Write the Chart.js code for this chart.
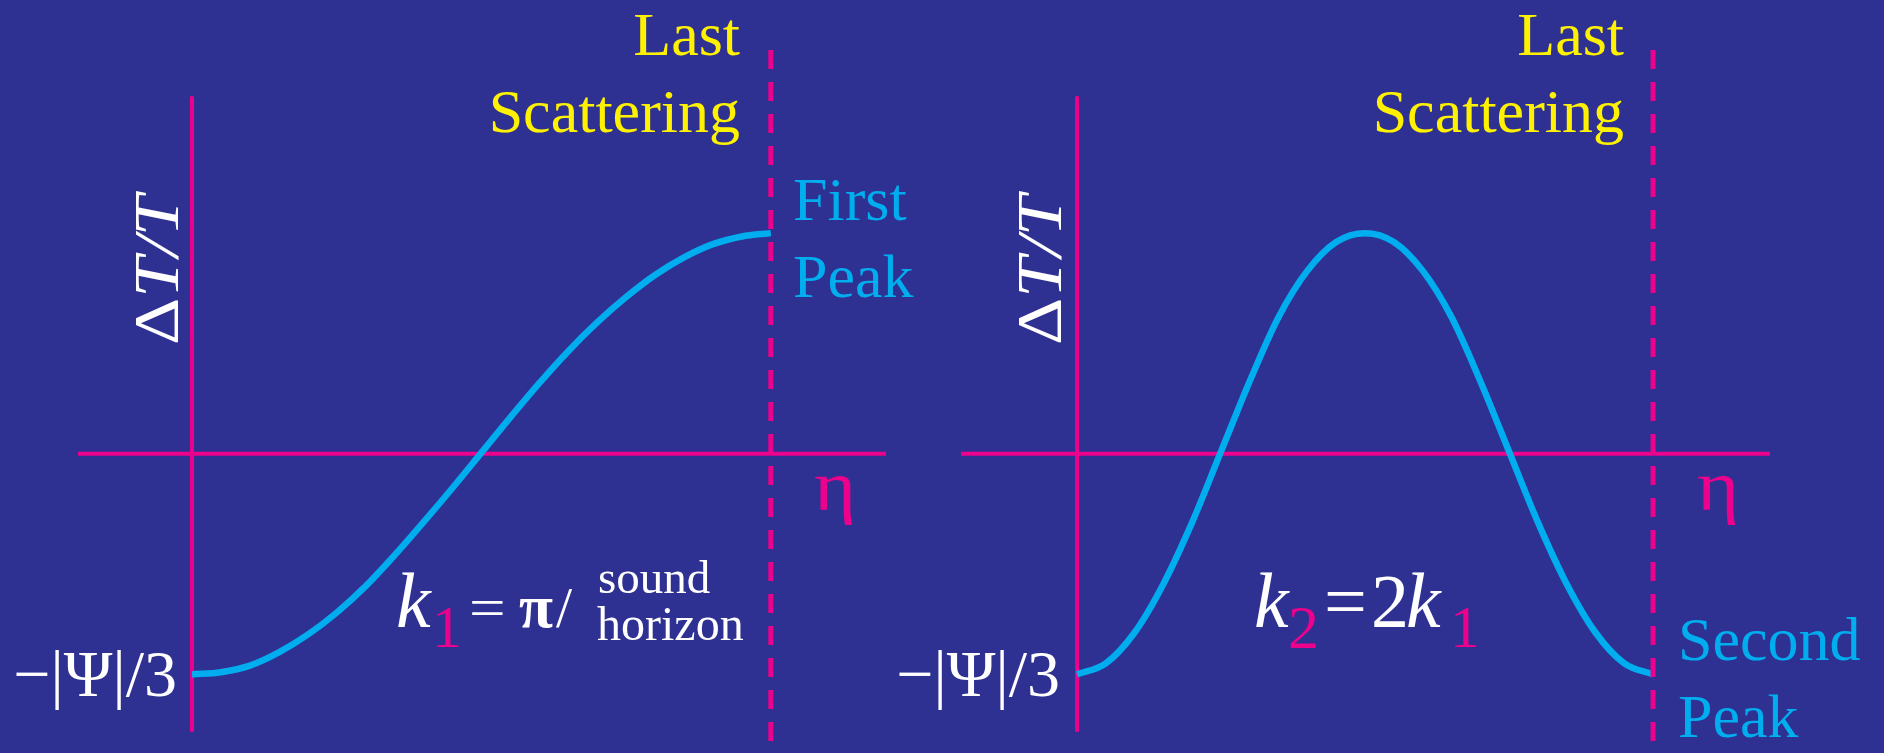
<!DOCTYPE html>
<html>
<head>
<meta charset="utf-8">
<title>Acoustic peaks</title>
<script src="https://cdn.jsdelivr.net/npm/chart.js@4.4.1/dist/chart.umd.min.js"></script>
<style>
  html, body { margin: 0; padding: 0; background: #2e3192; }
  .stage { position: relative; width: 1884px; height: 753px; }
  .stage canvas { position: absolute; left: 0; top: 0; display: block; }
</style>
</head>
<body>
<div class="stage">
  <canvas id="first-peak" width="1884" height="753"></canvas>
  <canvas id="second-peak" width="1884" height="753"></canvas>
</div>
<script>
// conformal time, with last scattering at eta = 1
const etaSteps = [0, 0.05, 0.1, 0.15, 0.2, 0.25, 0.3, 0.35, 0.4, 0.45, 0.5,
                  0.55, 0.6, 0.65, 0.7, 0.75, 0.8, 0.85, 0.9, 0.95, 1];
// dT/T in units of |Psi|/3 for the two modes
const firstPeakMode = [-1.00, -0.99, -0.96, -0.90, -0.82, -0.72, -0.60, -0.46, -0.31, -0.155, 0.005,
                       0.165, 0.32, 0.465, 0.595, 0.71, 0.81, 0.89, 0.95, 0.985, 1.00];
const secondPeakMode = [-1.00, -0.95, -0.81, -0.59, -0.31, 0.01, 0.33, 0.62, 0.83, 0.96, 1.00,
                        0.96, 0.83, 0.62, 0.33, 0.01, -0.31, -0.59, -0.81, -0.95, -1.00];

const lastScattering = 1;
const axisSpan = [-1.26, 1.62];   // extent of the dT/T axis line
const ySpan = [-1.32, 1.83];      // extent of the dashed line / plot

const MAGENTA = '#ec008c';
const CYAN = '#00aeef';
const YELLOW = '#fff200';
const WHITE = '#ffffff';
const SERIF = '"Liberation Serif", "Times New Roman", serif';

const txt = (t, x, y, font, color, align, sx) => ({ x, y, align, sx, runs: [{ t, font, color }] });

// draws free text on top of the plot
const notesPlugin = (notes) => ({
    id: 'notes',
    afterDatasetsDraw(chart) {
        const ctx = chart.ctx;
        notes.forEach(n => {
            ctx.save();
            ctx.translate(n.x, n.y);
            if (n.rotate) ctx.rotate(n.rotate);
            if (n.sx) ctx.scale(n.sx, 1);
            ctx.textBaseline = 'alphabetic';
            ctx.textAlign = 'left';
            let pen = 0;
            if (n.align === 'right') {
                n.runs.forEach(r => { ctx.font = r.font; pen -= ctx.measureText(r.t).width; });
            }
            n.runs.forEach(r => {
                ctx.font = r.font;
                ctx.fillStyle = r.color;
                ctx.fillText(r.t, pen, r.dy || 0);
                pen += ctx.measureText(r.t).width;
            });
            ctx.restore();
        });
    }
});

function drawPanel(id, mode, xRange, padding, notes) {
    const [xMin, xMax] = xRange;
    const line = (data, color, width, extra) => Object.assign({
        data, borderColor: color, borderWidth: width, showLine: true,
        pointRadius: 0, fill: false, clip: false, borderCapStyle: 'butt',
    }, extra || {});

    return new Chart(document.getElementById(id), {
        type: 'scatter',
        data: {
            datasets: [
                line([{ x: xMin, y: 0 }, { x: xMax, y: 0 }], MAGENTA, 4, { order: 3 }),
                line([{ x: 0, y: axisSpan[0] }, { x: 0, y: axisSpan[1] }], MAGENTA, 4, { order: 3 }),
                line(etaSteps.map((x, i) => ({ x, y: mode[i] })), CYAN, 6.5,
                     { order: 2, cubicInterpolationMode: 'monotone' }),
                line([{ x: lastScattering, y: ySpan[1] }, { x: lastScattering, y: ySpan[0] }],
                     MAGENTA, 5, { order: 1, borderDash: [19, 13] }),
            ],
        },
        options: {
            responsive: false, animation: false, devicePixelRatio: 1,
            layout: { padding },
            plugins: { legend: { display: false }, tooltip: { enabled: false } },
            scales: {
                x: { type: 'linear', min: xMin, max: xMax, display: false },
                y: { type: 'linear', min: ySpan[0], max: ySpan[1], display: false },
            },
        },
        plugins: [notesPlugin(notes)],
    });
}

const yAxisTitle = (x) => ({
    x, y: 345, rotate: -Math.PI / 2, sx: 1.15,
    runs: [{ t: 'Δ', font: `64px ${SERIF}`, color: WHITE }, { t: 'T/T', font: `italic 64px ${SERIF}`, color: WHITE }],
});

drawPanel('first-peak', firstPeakMode, [-0.197, 1.199], { left: 78, right: 998, top: 50, bottom: 8 }, [
    txt('Last', 740, 55, `62px ${SERIF}`, YELLOW, 'right'),
    txt('Scattering', 740, 132, `62px ${SERIF}`, YELLOW, 'right'),
    txt('First', 793, 220, `62px ${SERIF}`, CYAN),
    txt('Peak', 793, 297, `62px ${SERIF}`, CYAN),
    txt('η', 814, 510, `72px ${SERIF}`, MAGENTA, 'left', 1.12),
    yAxisTitle(178),
    txt('−|Ψ|/3', 177, 696, `66px ${SERIF}`, WHITE, 'right'),
    txt('k', 396, 627, `italic 78px ${SERIF}`, WHITE),
    txt('1', 432, 647, `60px ${SERIF}`, MAGENTA),
    txt('=', 469, 627, `58px ${SERIF}`, WHITE, 'left', 1.12),
    txt('π', 519, 627, `bold 62px ${SERIF}`, WHITE),
    txt('/', 556, 627, `58px ${SERIF}`, WHITE),
    txt('sound', 598, 593, `47px ${SERIF}`, WHITE),
    txt('horizon', 597, 640, `48px ${SERIF}`, WHITE),
]);

drawPanel('second-peak', secondPeakMode, [-0.2014, 1.203], { left: 961, right: 114, top: 50, bottom: 8 }, [
    txt('Last', 1624, 55, `62px ${SERIF}`, YELLOW, 'right'),
    txt('Scattering', 1624, 132, `62px ${SERIF}`, YELLOW, 'right'),
    txt('η', 1697, 510, `72px ${SERIF}`, MAGENTA, 'left', 1.12),
    yAxisTitle(1061),
    txt('−|Ψ|/3', 1060, 696, `66px ${SERIF}`, WHITE, 'right'),
    txt('k', 1254, 627, `italic 78px ${SERIF}`, WHITE),
    txt('2', 1288, 648, `62px ${SERIF}`, MAGENTA),
    txt('=', 1324, 627, `76px ${SERIF}`, WHITE),
    txt('2', 1371, 627, `76px ${SERIF}`, WHITE),
    txt('k', 1406, 627, `italic 78px ${SERIF}`, WHITE),
    txt('1', 1450, 647, `60px ${SERIF}`, MAGENTA),
    txt('Second', 1678, 660, `62px ${SERIF}`, CYAN),
    txt('Peak', 1678, 737, `62px ${SERIF}`, CYAN),
]);
</script>
</body>
</html>
